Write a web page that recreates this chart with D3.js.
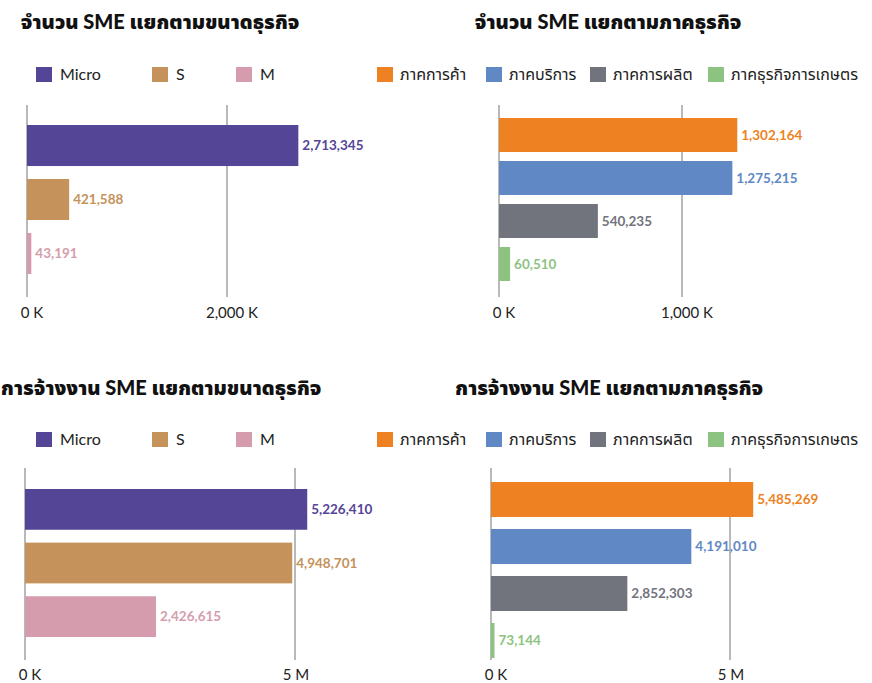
<!DOCTYPE html>
<html>
<head>
<meta charset="utf-8">
<script src="https://cdn.jsdelivr.net/npm/d3@7"></script>
<style>
  html, body { margin: 0; padding: 0; background: #fff; }
  svg { display: block; font-family: "Lato", "Noto Sans", "Noto Sans Thai", sans-serif; }
</style>
</head>
<body>
<svg id="chart" width="872" height="683"></svg>
<script>
// ---- Data ----
const sizeCategories = ["Micro", "S", "M"];
const sectorCategories = ["ภาคการค้า", "ภาคบริการ", "ภาคการผลิต", "ภาคธุรกิจการเกษตร"];

const smeCountBySize = [2713345, 421588, 43191];
const smeCountBySector = [1302164, 1275215, 540235, 60510];
const employmentBySize = [5226410, 4948701, 2426615];
const employmentBySector = [5485269, 4191010, 2852303, 73144];

const countSizeTicks = [0, 2000000];
const countSizeTickLabels = ["0 K", "2,000 K"];
const countSectorTicks = [0, 1000000];
const countSectorTickLabels = ["0 K", "1,000 K"];
const employmentTicks = [0, 5000000];
const employmentTickLabels = ["0 K", "5 M"];

const titles = [
  "จำนวน SME แยกตามขนาดธุรกิจ",
  "จำนวน SME แยกตามภาคธุรกิจ",
  "การจ้างงาน SME แยกตามขนาดธุรกิจ",
  "การจ้างงาน SME แยกตามภาคธุรกิจ"
];

// ---- Styles ----
const sizeColors = ["#554597", "#C4925A", "#D49CAD"];
const sectorColors = ["#EE8223", "#6088C5", "#72747D", "#8CC381"];

const svg = d3.select("#chart");

const panels = [
  { title: titles[0], titleX: 160, titleY: 29,
    cats: sizeCategories, values: smeCountBySize, colors: sizeColors,
    ticks: countSizeTicks, tickLabels: countSizeTickLabels,
    x0: 27, x1: 227, gridTop: 105, gridBottom: 297, tickY: 318,
    bandTop: 125, bandBottom: 274, pad: 0.24,
    legendY: 67, legendX: [36, 152, 236], legendTextDx: 24 },
  { title: titles[1], titleX: 608, titleY: 29,
    cats: sectorCategories, values: smeCountBySector, colors: sectorColors,
    ticks: countSectorTicks, tickLabels: countSectorTickLabels,
    x0: 499, x1: 682, gridTop: 105, gridBottom: 297, tickY: 318,
    bandTop: 118, bandBottom: 281, pad: 0.21,
    legendY: 67, legendX: [377, 486, 590, 708], legendTextDx: 23 },
  { title: titles[2], titleX: 161, titleY: 395,
    cats: sizeCategories, values: employmentBySize, colors: sizeColors,
    ticks: employmentTicks, tickLabels: employmentTickLabels,
    x0: 25, x1: 295, gridTop: 468, gridBottom: 660, tickY: 680,
    bandTop: 489, bandBottom: 637, pad: 0.24,
    legendY: 432, legendX: [36, 152, 236], legendTextDx: 24 },
  { title: titles[3], titleX: 609, titleY: 395,
    cats: sectorCategories, values: employmentBySector, colors: sectorColors,
    ticks: employmentTicks, tickLabels: employmentTickLabels,
    x0: 491, x1: 730, gridTop: 468, gridBottom: 660, tickY: 680,
    bandTop: 482, bandBottom: 658, pad: 0.255,
    legendY: 432, legendX: [377, 486, 590, 708], legendTextDx: 23 }
];

const fmt = d3.format(",");

panels.forEach(p => {
  const g = svg.append("g");

  // Title
  g.append("text")
    .attr("x", p.titleX).attr("y", p.titleY)
    .attr("text-anchor", "middle")
    .attr("font-size", 20).attr("font-weight", "900")
    .attr("fill", "#111")
    .text(p.title);

  // Legend
  const leg = g.selectAll("g.leg").data(p.cats).join("g").attr("class", "leg")
    .attr("transform", (d, i) => `translate(${p.legendX[i]},${p.legendY})`);
  leg.append("rect").attr("width", 16).attr("height", 15)
    .attr("fill", (d, i) => p.colors[i]);
  leg.append("text").attr("x", p.legendTextDx).attr("y", 13)
    .attr("font-size", 16).attr("fill", "#222").text(d => d);

  // Scales
  const x = d3.scaleLinear().domain([p.ticks[0], p.ticks[1]]).range([p.x0, p.x1]);
  const y = d3.scaleBand().domain(p.cats).range([p.bandTop, p.bandBottom])
    .paddingInner(p.pad).paddingOuter(0);

  // Grid lines
  g.selectAll("line.grid").data(p.ticks).join("line").attr("class", "grid")
    .attr("x1", d => x(d)).attr("x2", d => x(d))
    .attr("y1", p.gridTop).attr("y2", p.gridBottom)
    .attr("stroke", "#8a8a8a").attr("stroke-width", 1.2);

  // Tick labels
  g.selectAll("text.tick").data(p.ticks).join("text").attr("class", "tick")
    .attr("x", (d, i) => x(d) + (p.tickLabels[i].endsWith("K") ? 5 : 1))
    .attr("y", p.tickY)
    .attr("text-anchor", "middle")
    .attr("font-size", 15).attr("fill", "#222")
    .text((d, i) => p.tickLabels[i]);

  // Bars
  g.selectAll("rect.bar").data(p.values).join("rect").attr("class", "bar")
    .attr("x", x(0))
    .attr("y", (d, i) => y(p.cats[i]))
    .attr("width", d => x(d) - x(0))
    .attr("height", y.bandwidth())
    .attr("fill", (d, i) => p.colors[i]);

  // Value labels
  g.selectAll("text.val").data(p.values).join("text").attr("class", "val")
    .attr("x", d => x(d) + 4)
    .attr("y", (d, i) => y(p.cats[i]) + y.bandwidth() / 2)
    .attr("dy", "0.36em")
    .attr("font-size", 13.5).attr("font-weight", "bold")
    .attr("fill", (d, i) => p.colors[i])
    .text(d => fmt(d));
});
</script>
</body>
</html>
